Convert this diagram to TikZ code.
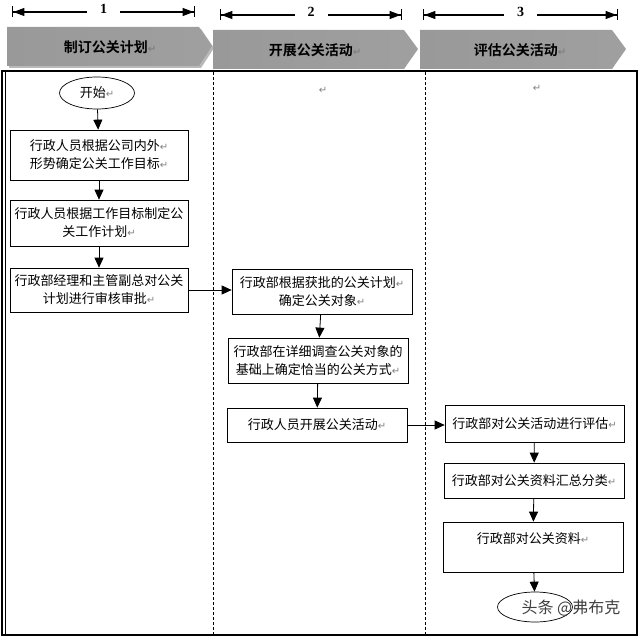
\documentclass[tikz,border=0pt]{standalone}
\usepackage{fontspec}
\usepackage{tikz}
\usetikzlibrary{arrows.meta,shapes.geometric}
\newfontfamily\cjk{Noto Sans CJK SC}[BoldFont={Noto Sans CJK SC Bold}]
\newfontfamily\symf{DejaVu Sans}
\newfontfamily\numf{Liberation Serif}
\newcommand{\retmark}{{\symf\color{gray}\fontsize{10}{10}\selectfont ↵}}

\begin{document}
\begin{tikzpicture}[x=1pt,y=-1pt,
    box/.style={draw, line width=0.7pt, align=center, inner sep=0pt,
        font=\cjk\fontsize{13}{18}\selectfont},
    terminal/.style={draw, ellipse, line width=0.7pt, inner sep=0pt,
        font=\cjk\fontsize{13}{18}\selectfont},
    flow/.style={-{Triangle[length=10pt,width=9pt]}, line width=0.8pt},
    span/.style={{Bar[width=11pt,line width=1.4pt]Triangle[length=11pt,width=8pt]}-{Triangle[length=11pt,width=8pt]Bar[width=11pt,line width=1.4pt]}, line width=1.1pt},
    spanlabel/.style={fill=white, inner xsep=13pt, inner ysep=1pt, font=\numf\bfseries\fontsize{14}{14}\selectfont},
    phase/.style={left color=gray!80, middle color=white, right color=gray!75},
    phaselabel/.style={font=\cjk\bfseries\fontsize{14}{14}\selectfont}]
        \useasboundingbox (0,0) rectangle (640,636);

        % Draw the phase spans
        \draw[span] (12,12) -- (195,12) node[spanlabel, midway, yshift=3pt] (n1) {1};
        \draw[span] (220,15) -- (402,15) node[spanlabel, midway, yshift=3pt] (n2) {2};
        \draw[span] (423,15) -- (618,15) node[spanlabel, midway, yshift=3pt] (n3) {3};

        % Draw the phase headers
        \fill[gray!55] (9,29) -- (201,29) -- (214,48) -- (201,68) -- (9,68) -- cycle;
        \shade[phase] (7,27) -- (199,27) -- (212,46) -- (199,66) -- (7,66) -- cycle;
        \shade[phase] (213,30) -- (404,30) -- (418,49) -- (404,69) -- (213,69) -- cycle;
        \shade[phase] (420,30) -- (612,30) -- (626,49) -- (612,69) -- (420,69) -- cycle;
        \node[phaselabel] (h1) at (110,47) {制订公关计划\retmark};
        \node[phaselabel] (h2) at (315,50) {开展公关活动\retmark};
        \node[phaselabel] (h3) at (520,50) {评估公关活动\retmark};

        % Draw the frame and the lanes
        \draw[line width=1.2pt] (2,71) rectangle (637,635);
        \draw[line width=0.6pt] (5,71) -- (5,635);
        \draw[dashed, dash pattern=on 3pt off 2pt, line width=0.6pt] (213,72) -- (213,635);
        \draw[dashed, dash pattern=on 3pt off 2pt, line width=0.6pt] (425,72) -- (425,635);
        \node (r2) at (323,90) {\retmark};
        \node (r3) at (537,88) {\retmark};

        % Lane 1
        \node[terminal, minimum width=75, minimum height=32] (start) at (97,93) {开始\retmark};
        \node[box, minimum width=178, minimum height=50] (goal) at (99,155)
            {行政人员根据公司内外\retmark\\形势确定公关工作目标\retmark};
        \node[box, minimum width=178, minimum height=46] (plan) at (99,223)
            {行政人员根据工作目标制定公\\关工作计划\retmark};
        \node[box, minimum width=178, minimum height=44] (approve) at (99,290)
            {行政部经理和主管副总对公关\\计划进行审核审批\retmark};

        % Lane 2
        \node[box, minimum width=180, minimum height=45] (target) at (322,291.5)
            {行政部根据获批的公关计划\retmark\\确定公关对象\retmark};
        \node[box, minimum width=180, minimum height=45] (method) at (318,360.5)
            {行政部在详细调查公关对象的\\基础上确定恰当的公关方式\retmark};
        \node[box, minimum width=180, minimum height=34] (run) at (317,425)
            {行政人员开展公关活动\retmark};

        % Lane 3
        \node[box, minimum width=179, minimum height=37] (assess) at (534.5,423.5)
            {行政部对公关活动进行评估\retmark};
        \node[box, minimum width=180, minimum height=35] (sort) at (534,480.5)
            {行政部对公关资料汇总分类\retmark};
        \node[box, minimum width=180, minimum height=50] (archive) at (533,547)
            {行政部对公关资料\retmark\\\mbox{}};
        \node[terminal, minimum width=75, minimum height=30] (stop) at (535,607) {};
        \node[font=\cjk\fontsize{16}{16}\selectfont, text=black!75] (mark) at (571,608) {头条 @弗布克};

        % Draw the connectors
        \draw[flow] (start) -- (goal);
        \draw[flow] (goal) -- (plan);
        \draw[flow] (plan) -- (approve);
        \draw[flow] (approve.east) -- (approve.east -| target.west);
        \draw[flow] (target) -- (method);
        \draw[flow] (method) -- (run);
        \draw[flow] (run.east) -- (run.east -| assess.west);
        \draw[flow] (assess) -- (sort);
        \draw[flow] (sort) -- (archive);
        \draw[flow] (archive) -- (stop);
    \end{tikzpicture}
\end{document}
